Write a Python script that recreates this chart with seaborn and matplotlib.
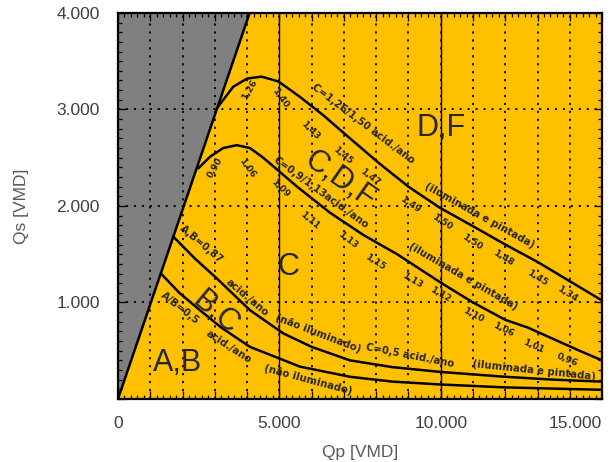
import pandas as pd
import matplotlib
matplotlib.use("Agg")
import matplotlib.pyplot as plt
from matplotlib import ticker
import seaborn as sns

# limite da zona cinza (Qp x Qs)
limite_qp = [0, 4080]
limite_qs = [0, 4000]

# curvas do abaco
c1_qp = [3060, 3570, 4000, 4450, 4970, 5640, 6360, 7190, 8100, 9000, 9980, 11000, 12000, 13000, 14000, 15000]
c1_qs = [3010, 3235, 3320, 3340, 3290, 3130, 2940, 2700, 2440, 2200, 1980, 1790, 1600, 1420, 1220, 1020]

c2_qp = [2490, 2850, 3260, 3680, 4090, 4500, 4920, 5550, 6570, 7600, 8650, 9980, 11000, 12000, 12700, 13500, 14300, 15000]
c2_qs = [2390, 2510, 2600, 2630, 2600, 2500, 2380, 2200, 1930, 1700, 1500, 1210, 1000, 820, 740, 620, 500, 400]

c3_qp = [1720, 2400, 3060, 4090, 5120, 6000, 7190, 8500, 10000, 12000, 13500, 15000]
c3_qs = [1680, 1450, 1250, 920, 680, 540, 400, 330, 280, 230, 200, 180]

c4_qp = [1330, 1900, 2540, 3200, 4090, 5640, 7190, 8500, 10000, 12000, 15000]
c4_qs = [1300, 1100, 920, 740, 540, 335, 230, 180, 150, 120, 95]

zonas_qp = [5000, 10000]

# indices ao longo das curvas
c1_txt = ["1,26", "1,40", "1,43", "1,45", "1,47", "1,49", "1,50", "1,50", "1,48", "1,45", "1,34"]
c1_txt_qp = [4090, 5020, 5950, 6980, 7810, 9050, 10040, 10970, 11940, 12990, 13920]
c1_txt_qs = [3200, 3120, 2787, 2528, 2300, 2010, 1830, 1630, 1460, 1250, 1090]
c1_txt_rot = [60, -55, -45, -40, -38, -35, -33, -33, -32, -32, -32]

c2_txt = ["0,90", "1,06", "1,09", "1,11", "1,13", "1,15", "1,13", "1,12", "1,10", "1,06", "1,01", "0,96"]
c2_txt_qp = [3010, 4000, 5020, 5950, 7130, 7970, 9110, 9980, 11010, 11940, 12870, 13920]
c2_txt_qs = [2400, 2393, 2186, 1855, 1647, 1420, 1230, 1080, 870, 715, 550, 400]
c2_txt_rot = [60, -55, -45, -40, -38, -33, -30, -30, -28, -26, -24, -22]

# rotulos das curvas
rot_txt = ["C=1,26/1,50 acid./ano", "(iluminada e pintada)",
           "C=0,9/1,13acid./ano", "(iluminada e pintada)",
           "A,B=0,87", "acid./ano", "(não iluminado)",
           "C=0,5 acid./ano", "(iluminada e pintada)",
           "A/B=0,5", "acid./ano", "(não iluminado)"]
rot_qp = [7600, 11200, 6300, 10700, 2600, 4000, 6200, 9050, 12900, 1920, 3440, 5900]
rot_qs = [2850, 1900, 2140, 1270, 1600, 1046, 680, 450, 300, 940, 540, 200]
rot_ang = [-37, -29, -36, -30, -40, -40, -21, -11, -6, -38, -33, -15]

# zonas
zona_txt = ["D,F", "C,D,F", "C", "B,C", "A,B"]
zona_qp = [10010, 6880, 5270, 3010, 1830]
zona_qs = [2810, 2270, 1370, 890, 370]
zona_rot = [0, -35, 0, -40, 0]

curvas = [("limite", limite_qp, limite_qs), ("c1", c1_qp, c1_qs), ("c2", c2_qp, c2_qs),
          ("c3", c3_qp, c3_qs), ("c4", c4_qp, c4_qs)]
rows = []
for nome, xs, ys in curvas:
    for i, (x, y) in enumerate(zip(xs, ys)):
        rows.append({"curva": nome, "ordem": i, "Qp": x, "Qs": y})
df = pd.DataFrame(rows)

sns.set_style("ticks")
plt.rcParams['font.family'] = ['Liberation Sans', 'DejaVu Sans']

fig, ax = plt.subplots(figsize=(6.1, 4.62), dpi=100)
fig.subplots_adjust(left=0.1934, right=0.987, bottom=0.1364, top=0.972)

ax.set_facecolor("#FFC000")
ax.fill_betweenx(limite_qs, 0, limite_qp, color="#808080", zorder=1, lw=0)
ax.set_axisbelow("line")
ax.grid(True, which="major", color="black", linestyle=(0, (1.2, 3.2)), linewidth=1.3)

for z in zonas_qp:
    ax.axvline(z, color="black", lw=1.0, zorder=1.6)

sns.lineplot(data=df, x="Qp", y="Qs", units="curva", estimator=None, sort=False,
             color="black", lw=1.8, ax=ax, zorder=3)

ax.set_xlim(0, 15000)
ax.set_ylim(0, 4000)

num_kw = dict(fontsize=6.5, fontweight="bold", family="DejaVu Sans", ha="center", va="center",
              rotation_mode="anchor", zorder=4)
for t, x, y, r in zip(c1_txt, c1_txt_qp, c1_txt_qs, c1_txt_rot):
    ax.text(x, y, t, rotation=r, **num_kw)
for t, x, y, r in zip(c2_txt, c2_txt_qp, c2_txt_qs, c2_txt_rot):
    ax.text(x, y, t, rotation=r, **num_kw)
for t, x, y, r in zip(rot_txt, rot_qp, rot_qs, rot_ang):
    ax.text(x, y, t, rotation=r, fontsize=7.3, fontweight="bold", family="DejaVu Sans",
            ha="center", va="center", rotation_mode="anchor", zorder=4)
for t, x, y, r in zip(zona_txt, zona_qp, zona_qs, zona_rot):
    ax.text(x, y, t, rotation=r, fontsize=22, ha="center", va="center",
            rotation_mode="anchor", zorder=4)

def fmt_x(v, pos):
    if v % 5000 != 0:
        return ""
    return "{:,}".format(int(v)).replace(",", ".")

def fmt_y(v, pos):
    if v == 0:
        return ""
    return "{:,}".format(int(v)).replace(",", ".")

ax.xaxis.set_major_locator(ticker.MultipleLocator(1000))
ax.xaxis.set_minor_locator(ticker.MultipleLocator(200))
ax.yaxis.set_major_locator(ticker.MultipleLocator(1000))
ax.yaxis.set_minor_locator(ticker.MultipleLocator(100))
ax.xaxis.set_major_formatter(ticker.FuncFormatter(fmt_x))
ax.yaxis.set_major_formatter(ticker.FuncFormatter(fmt_y))

ax.tick_params(which="both", direction="in", top=True, right=True, color="black", width=0.9)
ax.tick_params(which="major", length=6)
ax.tick_params(which="minor", length=3)
ax.tick_params(axis="x", which="major", pad=12, labelsize=12.5, labelcolor="#404040")
ax.tick_params(axis="y", which="major", pad=13, labelsize=12.5, labelcolor="#404040")

for s in ax.spines.values():
    s.set_color("black")
    s.set_linewidth(1.6)

ax.set_xlabel("Qp [VMD]", fontsize=12.5, color="#595959", labelpad=10)
ax.set_ylabel("Qs [VMD]", fontsize=12.5, color="#595959", labelpad=20)

# o ultimo rotulo do eixo x fica alinhado pela direita, como no original
fig.canvas.draw()
for lab in ax.get_xticklabels():
    if lab.get_text() == "15.000":
        lab.set_horizontalalignment("right")

fig.savefig("out.png", dpi=100)
